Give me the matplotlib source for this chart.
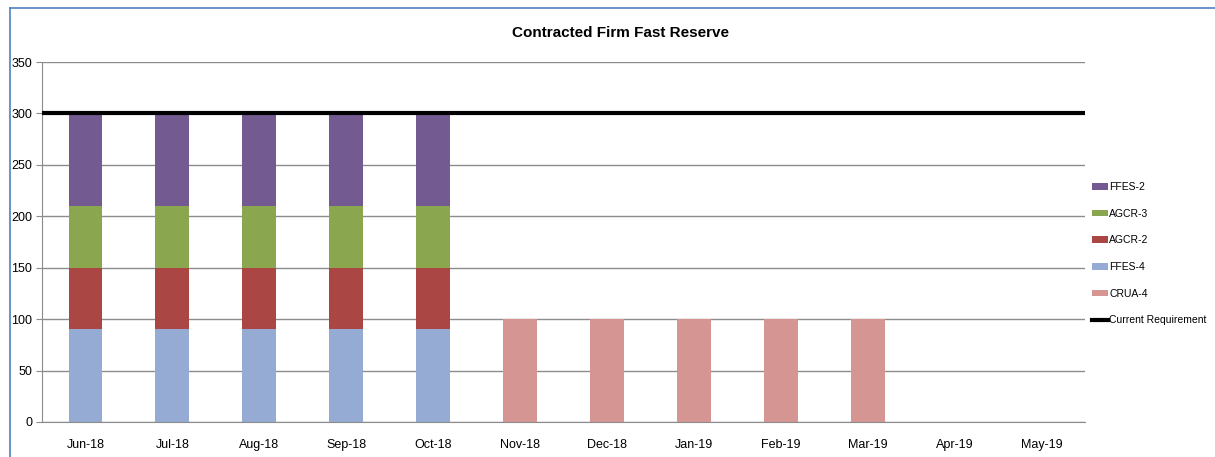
import numpy as np
import matplotlib
matplotlib.use('Agg')
import matplotlib.pyplot as plt
from matplotlib.lines import Line2D

plt.rcParams['font.family'] = ['Liberation Sans', 'DejaVu Sans']

months = ['Jun-18', 'Jul-18', 'Aug-18', 'Sep-18', 'Oct-18', 'Nov-18',
          'Dec-18', 'Jan-19', 'Feb-19', 'Mar-19', 'Apr-19', 'May-19']
ffes4 = [90, 90, 90, 90, 90, 0, 0, 0, 0, 0, 0, 0]
agcr2 = [60, 60, 60, 60, 60, 0, 0, 0, 0, 0, 0, 0]
agcr3 = [60, 60, 60, 60, 60, 0, 0, 0, 0, 0, 0, 0]
ffes2 = [90, 90, 90, 90, 90, 0, 0, 0, 0, 0, 0, 0]
crua4 = [0, 0, 0, 0, 0, 100, 100, 100, 100, 100, 0, 0]
requirement = [300] * 12

fig = plt.figure(figsize=(12.15, 4.57), dpi=100)
ax = fig.add_axes([42/1215, 1-422/457, (1085-42)/1215, 360/457])

x = np.arange(len(months))
w = 0.39
bottom = np.zeros(len(months))
series = [('FFES-4', ffes4, '#95abd4'), ('AGCR-2', agcr2, '#aa4744'),
          ('AGCR-3', agcr3, '#8aa64f'), ('FFES-2', ffes2, '#735a91')]
handles = {}
for name, vals, col in series:
    vals = np.array(vals)
    b = ax.bar(x, vals, w, bottom=bottom, color=col, zorder=2)
    handles[name] = b
    bottom += vals
handles['CRUA-4'] = ax.bar(x, crua4, w, color='#d49593', zorder=2)

ax.plot([-0.5, len(months) - 0.5], [requirement[0], requirement[-1]], color='black', lw=3, zorder=3)
line_h = Line2D([], [], color='black', lw=3)

ax.set_xlim(-0.5, len(months) - 0.5)
ax.set_ylim(0, 350)
ax.set_yticks(range(0, 351, 50))
ax.set_xticks(x)
ax.set_xticklabels(months)
ax.yaxis.grid(True, color='#8c8c8c', lw=1, zorder=0)
ax.set_axisbelow(True)
for s in ['top', 'right']:
    ax.spines[s].set_visible(False)
for s in ['left', 'bottom']:
    ax.spines[s].set_color('#8c8c8c')
ax.tick_params(axis='y', length=4, color='#8c8c8c', labelsize=9, pad=3)
ax.tick_params(axis='x', length=0, labelsize=9, pad=12)

order = ['FFES-2', 'AGCR-3', 'AGCR-2', 'FFES-4', 'CRUA-4']
leg = fig.legend([handles[k] for k in order] + [line_h], order + ['Current Requirement'],
                 loc='upper left', bbox_to_anchor=(1092/1215, 1-182/457), frameon=False,
                 fontsize=7.5, handlelength=1.5, handleheight=0.6, handletextpad=0.15,
                 labelspacing=1.6, borderaxespad=0, borderpad=0)

fig.text(620/1215, 1-33/457, 'Contracted Firm Fast Reserve', ha='center', va='center',
         fontsize=11, fontweight='bold')

# chart frame border
fig.add_artist(Line2D([10/1215, 1], [1-8/457, 1-8/457], color='#4f81bd', lw=1.2))
fig.add_artist(Line2D([10/1215, 10/1215], [0, 1-8/457], color='#4f81bd', lw=1.2))

fig.savefig('out.png', dpi=100)
